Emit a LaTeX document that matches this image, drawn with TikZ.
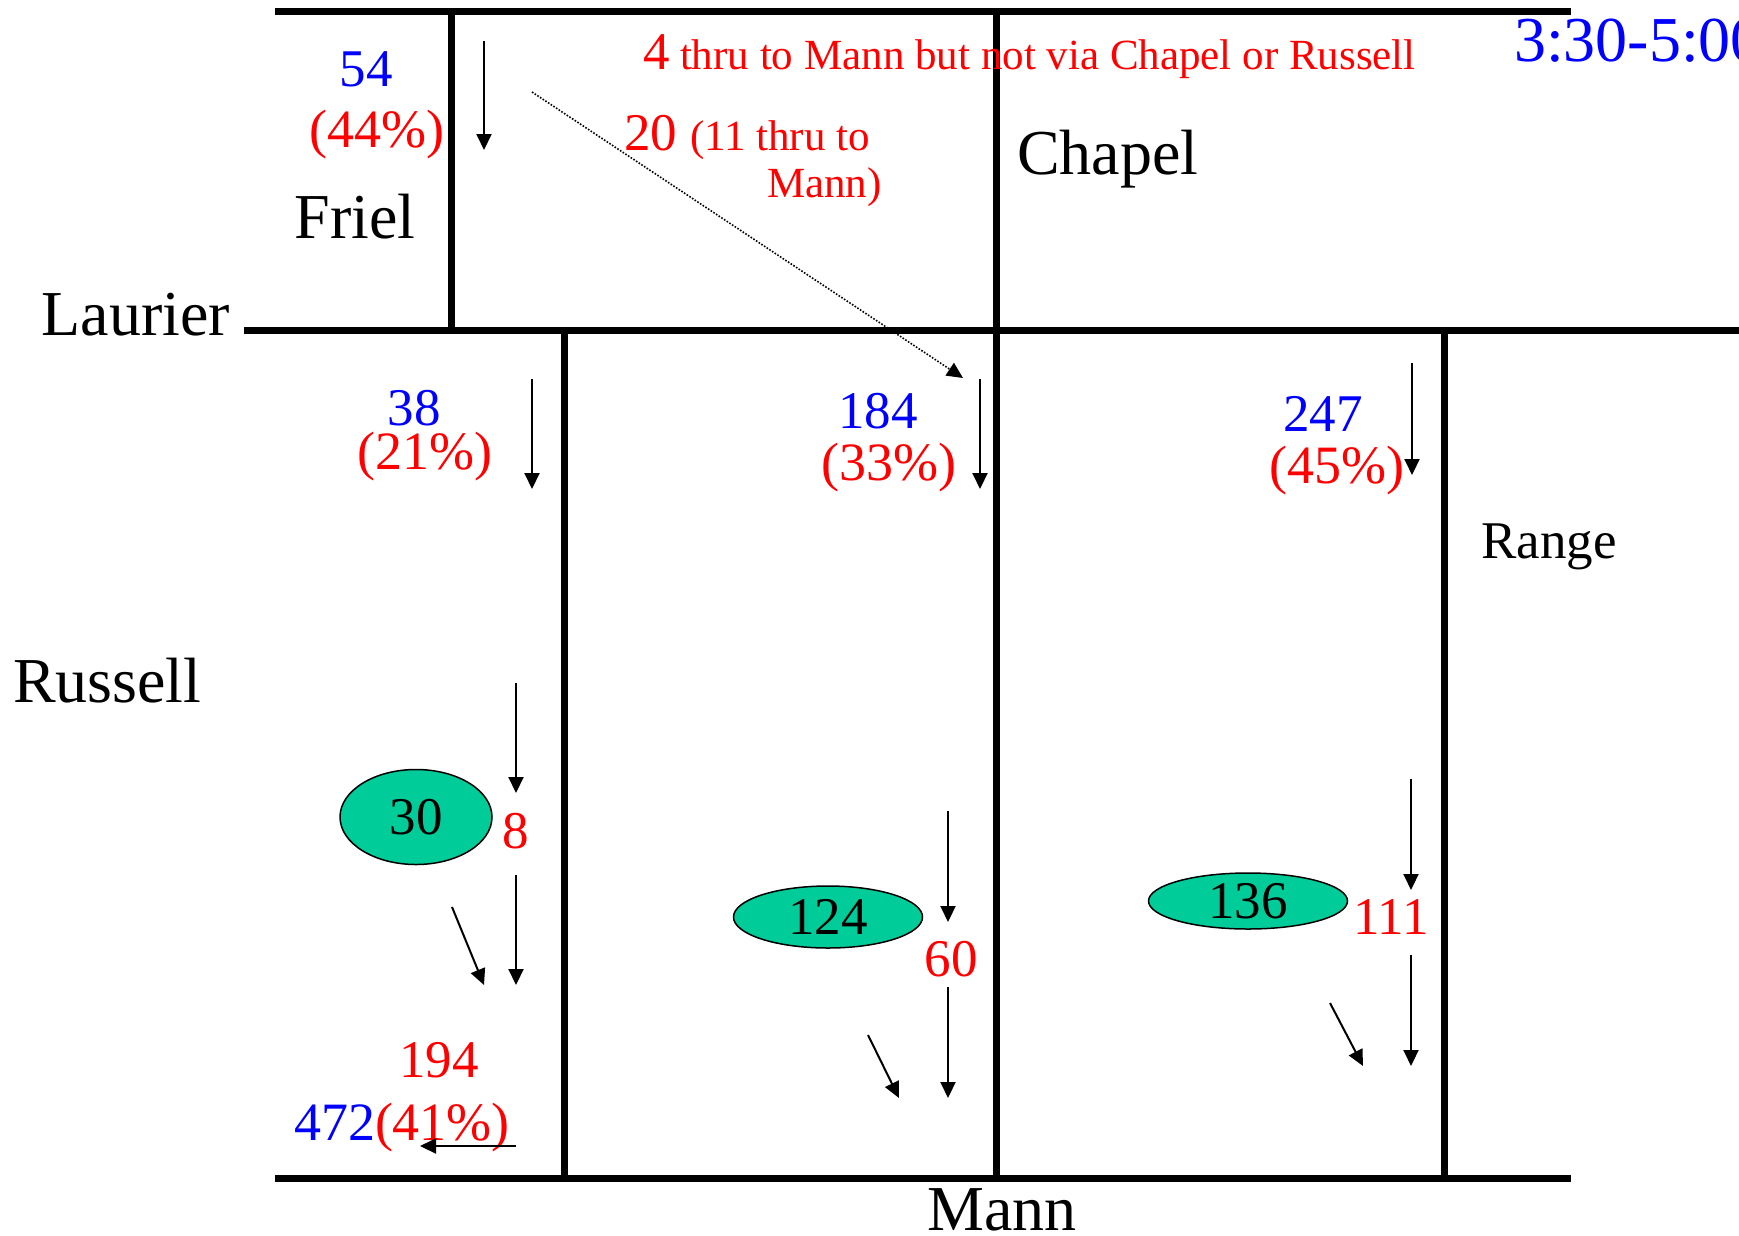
\documentclass[tikz,border=0pt]{standalone}
\usepackage{fontspec}
\setmainfont{Liberation Serif}
\usetikzlibrary{arrows.meta,shapes.geometric}
\definecolor{blobfill}{RGB}{0,204,153}
\begin{document}
\begin{tikzpicture}[x=1pt,y=-1pt,
  street/.style={line width=7pt},
  flow/.style={line width=2pt,-{Triangle[width=15pt,length=16pt]}},
  thrupath/.style={line width=1.6pt,dash pattern=on 1.6pt off 1.6pt,-{Triangle[width=15pt,length=16pt]}},
  bigtxt/.style={font=\fontsize{64}{70}\selectfont},
  rangetxt/.style={font=\fontsize{53}{60}\selectfont},
  numtxt/.style={font=\fontsize{53}{58}\selectfont},
  pcttxt/.style={font=\fontsize{54}{60}\selectfont},
  smalltxt/.style={font=\fontsize{43}{48}\selectfont},
  lbl/.style={inner sep=0pt,outer sep=0pt,anchor=base},
  blob/.style={ellipse,draw,line width=1.5pt,fill=blobfill,inner sep=0pt,font=\fontsize{53}{58}\selectfont},
]
\useasboundingbox (0,0) rectangle (1739,1235);

% streets
\coordinate (t1) at (275,11);   \coordinate (t2) at (1571,11);
\coordinate (l1) at (244,330);  \coordinate (l2) at (1745,330);
\coordinate (m1) at (275,1178); \coordinate (m2) at (1571,1178);
\coordinate (f1) at (451,11);   \coordinate (f2) at (451,330);
\coordinate (c1) at (996,11);   \coordinate (c2) at (996,1178);
\coordinate (r1) at (564,330);  \coordinate (r2) at (564,1178);
\coordinate (g1) at (1444,330); \coordinate (g2) at (1444,1178);
\draw[street] (t1) -- (t2);
\draw[street] (l1) -- (l2);
\draw[street] (m1) -- (m2);
\draw[street] (f1) -- (f2);
\draw[street] (c1) -- (c2);
\draw[street] (r1) -- (r2);
\draw[street] (g1) -- (g2);

% street names
\node[bigtxt,lbl] (friel) at (355,238) {Friel};
\node[bigtxt,lbl] (laurier) at (136,335) {Laurier};
\node[bigtxt,lbl,anchor=base west] (chapel) at (1017,174) {Chapel};
\node[bigtxt,lbl,anchor=base west] (russell) at (13,702) {Russell};
\node[bigtxt,lbl] (mann) at (1002,1230) {Mann};
\node[rangetxt,lbl] (range) at (1549,558) {Range};
\node[bigtxt,lbl,anchor=base west,text=blue] (time) at (1514,61) {3:30-5:00};

% top counts
\node[numtxt,lbl,text=blue] (n54) at (366,86) {54};
\node[pcttxt,lbl,text=red] (p44) at (377,147) {(44\%)};
\node[numtxt,lbl,anchor=base west,text=red] (four) at (643,69) {4};
\node[smalltxt,lbl,anchor=base west,text=red] (thru) at (680,69) {thru to Mann but not via Chapel or Russell};
\node[numtxt,lbl,anchor=base west,text=red] (twenty) at (624,150) {20};
\node[smalltxt,lbl,anchor=base west,text=red] (eleven) at (690,150) {(11 thru to};
\node[smalltxt,lbl,anchor=base west,text=red] (mannp) at (767,197) {Mann)};

% middle counts
\node[numtxt,lbl,text=blue] (n38) at (414,425) {38};
\node[pcttxt,lbl,text=red] (p21) at (425,469) {(21\%)};
\node[numtxt,lbl,text=blue] (n184) at (878,428) {184};
\node[pcttxt,lbl,text=red] (p33) at (889,480) {(33\%)};
\node[numtxt,lbl,text=blue] (n247) at (1323,431) {247};
\node[pcttxt,lbl,text=red] (p45) at (1337,483) {(45\%)};

% lower counts
\node[blob,minimum width=152pt,minimum height=95pt] (e30) at (416,817) {30};
\node[numtxt,lbl,text=red] (n8) at (516,848) {8};
\node[blob,minimum width=189pt,minimum height=62pt] (e124) at (828,917) {124};
\node[numtxt,lbl,text=red] (n60) at (951,976) {60};
\node[blob,minimum width=199pt,minimum height=56pt] (e136) at (1248,901) {136};
\node[numtxt,lbl,text=red] (n111) at (1391,934) {111};
\node[numtxt,lbl,text=red] (n194) at (439,1077) {194};
\node[pcttxt,lbl,anchor=base west] (n472) at (294,1140) {\textcolor{blue}{472}\textcolor{red}{(41\%)}};

% arrow end points
\coordinate (a1s) at (484,41);   \coordinate (a1e) at (484,150);
\coordinate (dts) at (532,92);   \coordinate (dte) at (963,378);
\coordinate (a2s) at (532,379);  \coordinate (a2e) at (532,489);
\coordinate (a3s) at (980,379);  \coordinate (a3e) at (980,489);
\coordinate (a4s) at (1412,363); \coordinate (a4e) at (1412,475);
\coordinate (r1s) at (516,683);  \coordinate (r1e) at (516,793);
\coordinate (r2s) at (516,875);  \coordinate (r2e) at (516,985);
\coordinate (r3s) at (452,907);  \coordinate (r3e) at (484,985);
\coordinate (r4s) at (516,1146); \coordinate (r4e) at (420,1146);
\coordinate (c1s) at (948,811);  \coordinate (c1e) at (948,922);
\coordinate (c2s) at (948,987);  \coordinate (c2e) at (948,1098);
\coordinate (c3s) at (868,1035); \coordinate (c3e) at (899,1098);
\coordinate (g1s) at (1411,779); \coordinate (g1e) at (1411,890);
\coordinate (g2s) at (1411,955); \coordinate (g2e) at (1411,1066);
\coordinate (g3s) at (1330,1003);\coordinate (g3e) at (1363,1066);

\draw[flow] (a1s) -- (a1e);
\draw[thrupath] (dts) -- (dte);
\draw[flow] (a2s) -- (a2e);
\draw[flow] (a3s) -- (a3e);
\draw[flow] (a4s) -- (a4e);
\draw[flow] (r1s) -- (r1e);
\draw[flow] (r2s) -- (r2e);
\draw[flow] (r3s) -- (r3e);
\draw[flow] (r4s) -- (r4e);
\draw[flow] (c1s) -- (c1e);
\draw[flow] (c2s) -- (c2e);
\draw[flow] (c3s) -- (c3e);
\draw[flow] (g1s) -- (g1e);
\draw[flow] (g2s) -- (g2e);
\draw[flow] (g3s) -- (g3e);
\end{tikzpicture}
\end{document}
